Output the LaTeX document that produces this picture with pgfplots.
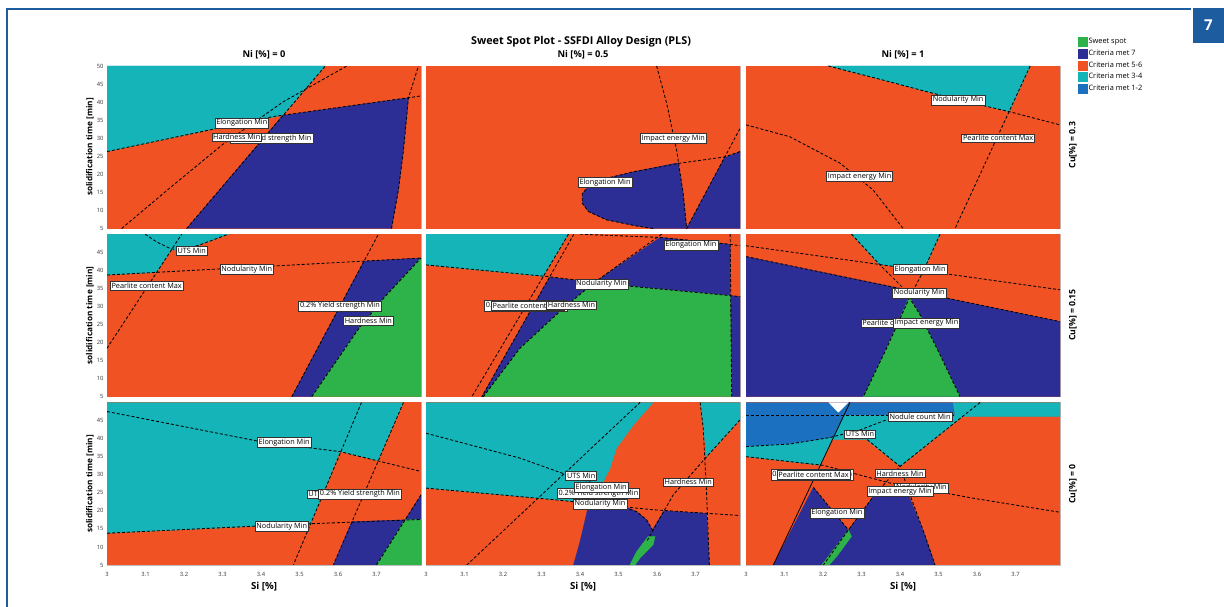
\documentclass[border=0pt]{standalone}
\usepackage{fontspec}
\setmainfont{Open Sans}
\usepackage{pgfplots}
\pgfplotsset{compat=1.18}

\definecolor{sweet}{RGB}{46,178,74}
\definecolor{critA}{RGB}{44,46,150}
\definecolor{critB}{RGB}{240,82,35}
\definecolor{critC}{RGB}{20,180,184}
\definecolor{critD}{RGB}{28,112,192}
\definecolor{pageblue}{RGB}{30,92,160}

\tikzset{
  lbl/.style={draw=black!80, fill=white, line width=0.45pt, inner sep=1.4pt,
    font=\fontsize{7.3}{8}\selectfont},
}
\pgfplotsset{
  panel/.style={
    scale only axis, width=314pt, height=162.5pt, anchor=south west,
    xmin=3, xmax=3.8156, ymin=5, ymax=50,
    axis line style={draw=black!25, line width=0.5pt},
    major tick length=0pt,
    xtick=\empty, ytick=\empty,
    tick label style={font=\fontsize{5.8}{6}\selectfont, text=black!80},
    xticklabel style={yshift=-4pt},
    /pgf/number format/assume math mode=true,
  },
  ytop/.style={ytick={5,10,...,50}},
  ylow/.style={ytick={5,10,...,45}},
  xbot/.style={xtick={3,3.1,3.2,3.3,3.4,3.5,3.6,3.7},
    xticklabels={3,3.1,3.2,3.3,3.4,3.5,3.6,3.7}},
  reg/.style={draw=#1, line width=0.3pt, fill=#1, forget plot},
  bnd/.style={black, line width=0.85pt, dash pattern=on 3pt off 2pt, forget plot},
}
\newcommand{\bg}{\addplot[reg=critB] coordinates {(3,5) (3.8156,5) (3.8156,50) (3,50)} -- cycle;}

\begin{document}
\begin{tikzpicture}
\path[use as bounding box, fill=white] (0pt,0pt) rectangle (1224pt,607pt);

% page frame and figure number
\draw[pageblue, line width=1.5pt] (1191pt,598pt) -- (7pt,598pt) -- (7pt,0pt);
\fill[pageblue] (1193pt,564pt) rectangle (1224pt,599pt);
\node[text=white, font=\fontsize{15}{16}\bfseries] at (1208.5pt,581.5pt) {7};

% titles
\node[font=\fontsize{10.8}{12}\bfseries] at (581pt,565pt) {Sweet Spot Plot - SSFDI Alloy Design (PLS)};
\foreach \cx/\t in {264/0, 583/0.5, 903/1}
  \node[font=\fontsize{9.3}{10}\bfseries] at (\cx pt,552pt) {Ni [\%] = \t};
\foreach \cy in {460,291.5,123}
  \node[rotate=90, font=\fontsize{8.2}{9}\bfseries] at (90pt,\cy pt) {solidification time [min]};
\foreach \cx in {264,583,903}
  \node[font=\fontsize{9.7}{10}\bfseries] at (\cx pt,20pt) {Si [\%]};
\node[rotate=90, font=\fontsize{8.7}{9}\bfseries] at (1073pt,462pt) {Cu[\%] = 0.3};
\node[rotate=90, font=\fontsize{8.7}{9}\bfseries] at (1073pt,292pt) {Cu[\%] = 0.15};
\node[rotate=90, font=\fontsize{8.7}{9}\bfseries] at (1073pt,123pt) {Cu[\%] = 0};

% ---------- Ni = 0, Cu = 0.3
\begin{axis}[panel, ytop, at={(107pt,378.5pt)}]
\bg
\addplot[reg=critC] coordinates {(3,50) (3.567,50) (3.456,36.3) (3.276,32.5) (3,26.3)} -- cycle;
\addplot[reg=critA] coordinates {(3.207,5) (3.456,36.3) (3.783,41.2) (3.770,26.7) (3.757,15.7) (3.739,5)} -- cycle;
\addplot[bnd] coordinates {(3,26.3) (3.276,32.5) (3.432,36.0) (3.8156,41.7)};
\addplot[bnd] coordinates {(3.038,5) (3.172,17.0) (3.302,28.4) (3.458,40.1) (3.623,50)};
\addplot[bnd] coordinates {(3.207,5) (3.567,50)};
\addplot[bnd] coordinates {(3.739,5) (3.757,15.7) (3.770,26.7) (3.783,41.2) (3.809,50)};
\node[lbl, anchor=east] at (3.535,30.0) {0.2\% Yield strength Min};
\node[lbl] at (3.337,30.3) {Hardness Min};
\node[lbl] at (3.350,34.2) {Elongation Min};
\end{axis}

% ---------- Ni = 0.5, Cu = 0.3
\begin{axis}[panel, at={(426pt,378.5pt)}]
\bg
\addplot[reg=critA] coordinates {(3.655,23.2) (3.539,20.7) (3.469,18.9) (3.426,17.0) (3.406,14.7) (3.406,12.0) (3.422,9.7) (3.469,7.4) (3.547,5.7) (3.590,5) (3.677,5) (3.668,14.7)} -- cycle;
\addplot[reg=critA] coordinates {(3.677,5) (3.775,24.6) (3.8156,26.3) (3.8156,5)} -- cycle;
\addplot[bnd] coordinates {(3.8156,26.3) (3.775,24.8) (3.660,23.1) (3.539,20.7) (3.469,18.9) (3.426,17.0) (3.406,14.7) (3.406,12.0) (3.422,9.7) (3.469,7.4) (3.547,5.7) (3.590,5)};
\addplot[bnd] coordinates {(3.599,50) (3.625,39.7) (3.651,26.7) (3.668,14.7) (3.677,5)};
\addplot[bnd] coordinates {(3.677,5) (3.8156,32.7)};
\node[lbl] at (3.642,30.0) {Impact energy Min};
\node[lbl] at (3.465,17.7) {Elongation Min};
\end{axis}

% ---------- Ni = 1, Cu = 0.3
\begin{axis}[panel, at={(746pt,378.5pt)},
  legend style={at={(axis description cs:1.047,1.19)}, anchor=north west,
    draw=none, fill=none, font=\fontsize{7.4}{8}\selectfont, row sep=2.2pt,
    nodes={inner sep=1.2pt}},
  legend cell align=left]
\bg
\addplot[reg=critC] coordinates {(3.214,50) (3.738,50) (3.684,37.3) (3.590,39.7) (3.469,42.9) (3.356,46.1)} -- cycle;
\addplot[bnd] coordinates {(3.214,50) (3.356,46.1) (3.469,42.9) (3.590,39.7) (3.686,37.3) (3.8156,33.7)};
\addplot[bnd] coordinates {(3.738,50) (3.543,5)};
\addplot[bnd] coordinates {(3,33.7) (3.114,30.4) (3.244,23.1) (3.330,15.7) (3.408,5)};
\node[lbl] at (3.551,40.6) {Nodularity Min};
\node[lbl] at (3.655,30.0) {Pearlite content Max};
\node[lbl] at (3.295,19.4) {Impact energy Min};
\addlegendimage{legend image code/.code={\fill[sweet] (0pt,-4.5pt) rectangle (9pt,4.5pt);}}
\addlegendentry{Sweet spot}
\addlegendimage{legend image code/.code={\fill[critA] (0pt,-4.5pt) rectangle (9pt,4.5pt);}}
\addlegendentry{Criteria met 7}
\addlegendimage{legend image code/.code={\fill[critB] (0pt,-4.5pt) rectangle (9pt,4.5pt);}}
\addlegendentry{Criteria met 5-6}
\addlegendimage{legend image code/.code={\fill[critC] (0pt,-4.5pt) rectangle (9pt,4.5pt);}}
\addlegendentry{Criteria met 3-4}
\addlegendimage{legend image code/.code={\fill[critD] (0pt,-4.5pt) rectangle (9pt,4.5pt);}}
\addlegendentry{Criteria met 1-2}
\end{axis}

% ---------- Ni = 0, Cu = 0.15
\begin{axis}[panel, ylow, at={(107pt,210.3pt)}]
\bg
\addplot[reg=critC] coordinates {(3,50) (3.315,50) (3.24,47.0) (3.19,45.6) (3.167,45.6) (3.128,39.4) (3,38.7)} -- cycle;
\addplot[reg=critA] coordinates {(3.480,5) (3.667,42.5) (3.8156,43.4) (3.722,32.7) (3.653,23.7) (3.532,5)} -- cycle;
\addplot[reg=sweet] coordinates {(3.532,5) (3.653,23.7) (3.722,32.7) (3.8156,43.4) (3.8156,5)} -- cycle;
\addplot[bnd] coordinates {(3,18.4) (3.194,50)};
\addplot[bnd] coordinates {(3.099,50) (3.13,47.8) (3.165,46.0) (3.19,45.6) (3.24,47.0) (3.315,50)};
\addplot[bnd] coordinates {(3,38.7) (3.8156,43.4)};
\addplot[bnd] coordinates {(3.480,5) (3.705,50)};
\addplot[bnd] coordinates {(3.532,5) (3.653,23.7) (3.722,32.7) (3.8156,43.4)};
\node[lbl] at (3.220,45.4) {UTS Min};
\node[lbl] at (3.363,40.3) {Nodularity Min};
\node[lbl] at (3.103,35.7) {Pearlite content Max};
\node[lbl] at (3.605,30.1) {0.2\% Yield strength Min};
\node[lbl] at (3.679,26.0) {Hardness Min};
\end{axis}

% ---------- Ni = 0.5, Cu = 0.15
\begin{axis}[panel, at={(426pt,210.3pt)}]
\bg
\addplot[reg=critC] coordinates {(3,50) (3.370,50) (3.304,38.3) (3,41.5)} -- cycle;
\addplot[reg=critA] coordinates {(3.321,38.1) (3.438,36.7) (3.357,29.5) (3.244,18.4) (3.149,5) (3.145,5)} -- cycle;
\addplot[reg=critA] coordinates {(3.608,49.1) (3.790,47.2) (3.790,33.0) (3.539,35.5) (3.438,36.7)} -- cycle;
\addplot[reg=critA] coordinates {(3.790,33.0) (3.8156,32.7) (3.8156,5) (3.794,5)} -- cycle;
\addplot[reg=sweet] coordinates {(3.438,36.7) (3.539,35.5) (3.790,33.0) (3.794,5) (3.149,5) (3.244,18.4) (3.357,29.5)} -- cycle;
\addplot[bnd] coordinates {(3,41.5) (3.313,38.3) (3.438,36.7) (3.539,35.5) (3.790,33.0) (3.8156,32.7)};
\addplot[bnd] coordinates {(3.612,50) (3.438,36.7) (3.357,29.5) (3.244,18.4) (3.149,5)};
\addplot[bnd] coordinates {(3.370,50) (3.119,5)};
\addplot[bnd] coordinates {(3.384,50) (3.145,5)};
\addplot[bnd] coordinates {(3.40,50) (3.608,49.1) (3.790,47.2) (3.8156,46.8)};
\addplot[bnd] coordinates {(3.790,50) (3.794,5)};
\node[lbl, anchor=west] at (3.1515,30.2) {0.2\% Yield strength Min};
\node[lbl, anchor=west] at (3.169,30.2) {Pearlite content Max};
\node[lbl] at (3.378,30.4) {Hardness Min};
\node[lbl] at (3.456,36.2) {Nodularity Min};
\node[lbl] at (3.688,47.0) {Elongation Min};
\end{axis}

% ---------- Ni = 1, Cu = 0.15
\begin{axis}[panel, at={(746pt,210.3pt)}]
\bg
\addplot[reg=critA] coordinates {(3,43.8) (3.8156,25.8) (3.8156,5) (3,5)} -- cycle;
\addplot[reg=critC] coordinates {(3.274,50) (3.504,50) (3.461,39.9) (3.345,41.7)} -- cycle;
\addplot[reg=sweet] coordinates {(3.424,32.6) (3.452,27.7) (3.504,16.6) (3.556,5) (3.305,5) (3.365,18.4)} -- cycle;
\addplot[bnd] coordinates {(3,46.8) (3.8156,34.6)};
\addplot[bnd] coordinates {(3,43.8) (3.8156,25.8)};
\addplot[bnd] coordinates {(3.274,50) (3.348,41.5) (3.409,35.0) (3.452,27.7) (3.504,16.6) (3.556,5)};
\addplot[bnd] coordinates {(3.504,50) (3.461,39.9) (3.426,32.7) (3.365,18.4) (3.305,5)};
\node[lbl] at (3.452,40.3) {Elongation Min};
\node[lbl] at (3.450,33.7) {Nodularity Min};
\node[lbl, anchor=west] at (3.298,25.4) {Pearlite content Max};
\node[lbl] at (3.469,25.4) {Impact energy Min};
\end{axis}

% ---------- Ni = 0, Cu = 0
\begin{axis}[panel, ylow, xbot, at={(107pt,42pt)}]
\bg
\addplot[reg=critC] coordinates {(3,50) (3.770,50) (3.704,33.9) (3.605,36.4) (3.529,16.4) (3,13.8)} -- cycle;
\addplot[reg=critA] coordinates {(3.588,5) (3.636,17.0) (3.774,17.5) (3.8156,24.4) (3.8156,5)} -- cycle;
\addplot[reg=sweet] coordinates {(3.700,5) (3.774,17.5) (3.8156,17.6) (3.8156,5)} -- cycle;
\addplot[bnd] coordinates {(3,47.5) (3.397,39.2) (3.605,36.4) (3.8156,30.9)};
\addplot[bnd] coordinates {(3,13.8) (3.449,16.1) (3.8156,17.6)};
\addplot[bnd] coordinates {(3.661,50) (3.484,5)};
\addplot[bnd] coordinates {(3.770,50) (3.588,5)};
\addplot[bnd] coordinates {(3.700,5) (3.8156,24.4)};
\node[lbl] at (3.460,39.0) {Elongation Min};
\node[lbl, anchor=west] at (3.519,24.7) {UTS Min};
\node[lbl, anchor=west] at (3.549,24.7) {0.2\% Yield strength Min};
\node[lbl] at (3.454,15.7) {Nodularity Min};
\end{axis}

% ---------- Ni = 0.5, Cu = 0
\begin{axis}[panel, xbot, at={(426pt,42pt)}]
\bg
\addplot[reg=critC] coordinates {(3,50) (3.590,50) (3.539,43.8) (3.495,37.4) (3.478,31.8) (3.452,26.3) (3.443,22.1) (3.331,23.1) (3,26.3)} -- cycle;
\addplot[reg=critC] coordinates {(3.712,50) (3.8156,50) (3.8156,45.2) (3.729,35.0) (3.720,42.9) (3.716,47.5)} -- cycle;
\addplot[reg=critA] coordinates {(3.383,5) (3.400,11.5) (3.422,21.5) (3.521,21.0) (3.547,19.8) (3.573,17.5) (3.588,14.7) (3.618,20.0) (3.729,19.3) (3.736,5)} -- cycle;
\addplot[reg=sweet] coordinates {(3.534,6.0) (3.547,8.7) (3.577,12.9) (3.595,12.9) (3.590,10.6) (3.556,6.9) (3.543,5) (3.530,5)} -- cycle;
\addplot[bnd] coordinates {(3,41.5) (3.244,34.6) (3.365,30.0) (3.504,25.4)};
\addplot[bnd] coordinates {(3,26.3) (3.331,23.1) (3.504,21.2) (3.590,20.3) (3.8156,18.7)};
\addplot[bnd] coordinates {(3.106,5) (3.556,50)};
\addplot[bnd] coordinates {(3.504,21.2) (3.547,19.8) (3.573,17.5) (3.588,14.7)};
\addplot[bnd] coordinates {(3.8156,45.2) (3.729,35.0) (3.642,24.4) (3.590,14.7) (3.573,11.5)};
\addplot[bnd] coordinates {(3.712,50) (3.720,42.9) (3.729,24.4) (3.736,5)};
\node[lbl, anchor=west] at (3.340,24.9) {0.2\% Yield strength Min};
\node[lbl] at (3.403,29.7) {UTS Min};
\node[lbl] at (3.455,26.5) {Elongation Min};
\node[lbl] at (3.452,21.9) {Nodularity Min};
\node[lbl] at (3.681,28.0) {Hardness Min};
\end{axis}

% ---------- Ni = 1, Cu = 0
\begin{axis}[panel, xbot, at={(746pt,42pt)}]
\bg
\addplot[reg=critD] coordinates {(3,50) (3.538,50) (3.543,46.4) (3.255,46.4) (3.227,40.3) (3.114,38.5) (3,37.8)} -- cycle;
\addplot[reg=critC] coordinates {(3,37.8) (3,35.0) (3.193,32.6) (3.224,39.7) (3.313,39.7) (3.400,32.3) (3.562,46.1) (3.8156,46.1) (3.8156,50) (3.538,50) (3.543,46.4) (3.255,46.4) (3.227,40.3) (3.114,38.5)} -- cycle;
\addplot[reg=white] coordinates {(3.215,50) (3.265,50) (3.240,47.3)} -- cycle;
\addplot[reg=critA] coordinates {(3.071,5) (3.175,26.5) (3.218,20.8) (3.266,14.7) (3.197,5)} -- cycle;
\addplot[reg=critA] coordinates {(3.266,14.7) (3.331,24.0) (3.422,24.4) (3.461,14.3) (3.491,5) (3.216,5)} -- cycle;
\addplot[reg=sweet] coordinates {(3.266,14.7) (3.274,12.9) (3.236,7.4) (3.216,5) (3.197,5)} -- cycle;
\addplot[bnd] coordinates {(3,46.4) (3.543,46.4)};
\addplot[bnd] coordinates {(3,37.8) (3.114,38.5) (3.218,40.3) (3.296,42.4) (3.365,45.2)};
\addplot[bnd] coordinates {(3,35.0) (3.201,32.6) (3.374,27.7) (3.590,23.5) (3.8156,19.6)};
\addplot[black, line width=0.8pt, forget plot] coordinates {(3.270,50) (3.071,5)};
\addplot[bnd] coordinates {(3.608,50) (3.400,32.3) (3.331,24.0) (3.266,14.7) (3.201,5)};
\addplot[bnd] coordinates {(3.305,40.6) (3.400,32.3) (3.426,24.4) (3.461,14.3) (3.491,5)};
\addplot[bnd] coordinates {(3.175,26.5) (3.266,14.7)};
\node[lbl] at (3.452,46.1) {Nodule count Min};
\node[lbl] at (3.296,41.2) {UTS Min};
\node[lbl, anchor=west] at (3.064,30.0) {0.2\% Yield strength Min};
\node[lbl, anchor=west] at (3.080,30.0) {Pearlite content Max};
\node[lbl] at (3.400,30.4) {Hardness Min};
\node[lbl, anchor=east] at (3.5255,26.3) {Nodularity Min};
\node[lbl] at (3.400,25.4) {Impact energy Min};
\node[lbl] at (3.236,19.4) {Elongation Min};
\end{axis}
\end{tikzpicture}
\end{document}
